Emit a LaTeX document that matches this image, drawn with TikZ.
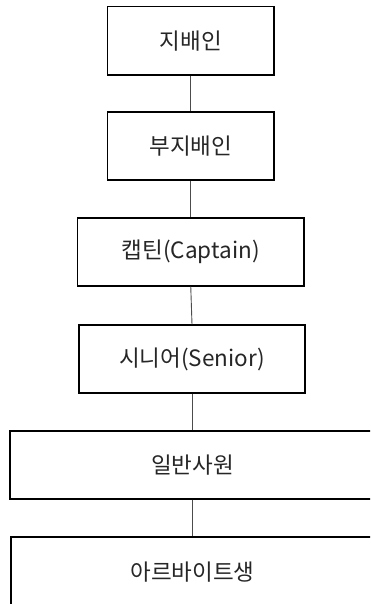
\documentclass[tikz,border=0pt]{standalone}
\usepackage{fontspec}
\setmainfont{Noto Sans CJK KR}
\begin{document}
\begin{tikzpicture}[x=1pt,y=-1pt,
  rank/.style={draw=black,line width=1.1pt,fill=white,rectangle,inner sep=0pt,
    font=\fontsize{22.5}{26}\selectfont,text=black!85},
  link/.style={draw=black!70,line width=0.9pt}]
\useasboundingbox (0,0) rectangle (370,604);
\clip (0,0) rectangle (370,604);
\node[rank,minimum width=166.5pt,minimum height=68.5pt] (b1) at (190.75,40.75) {지배인};
\node[rank,minimum width=166.5pt,minimum height=68pt] (b2) at (190.75,146) {부지배인};
\node[rank,minimum width=226.5pt,minimum height=68pt] (b3) at (190.75,252) {캡틴(Captain)};
\node[rank,minimum width=226pt,minimum height=68pt] (b4) at (192,359) {시니어(Senior)};
\node[rank,minimum width=365pt,minimum height=68pt] (b5) at (192.5,465) {일반사원};
\node[rank,minimum width=363pt,minimum height=70pt] (b6) at (192.5,572) {아르바이트생};
\draw[link] (b1.south) -- (b2.north);
\draw[link] (b2.south) -- (b3.north);
\draw[link] (b3.south) -- (b4.north);
\draw[link] (b4.south) -- (b4.south |- b5.north);
\draw[link] (b5.south) -- (b6.north);
\end{tikzpicture}
\end{document}
